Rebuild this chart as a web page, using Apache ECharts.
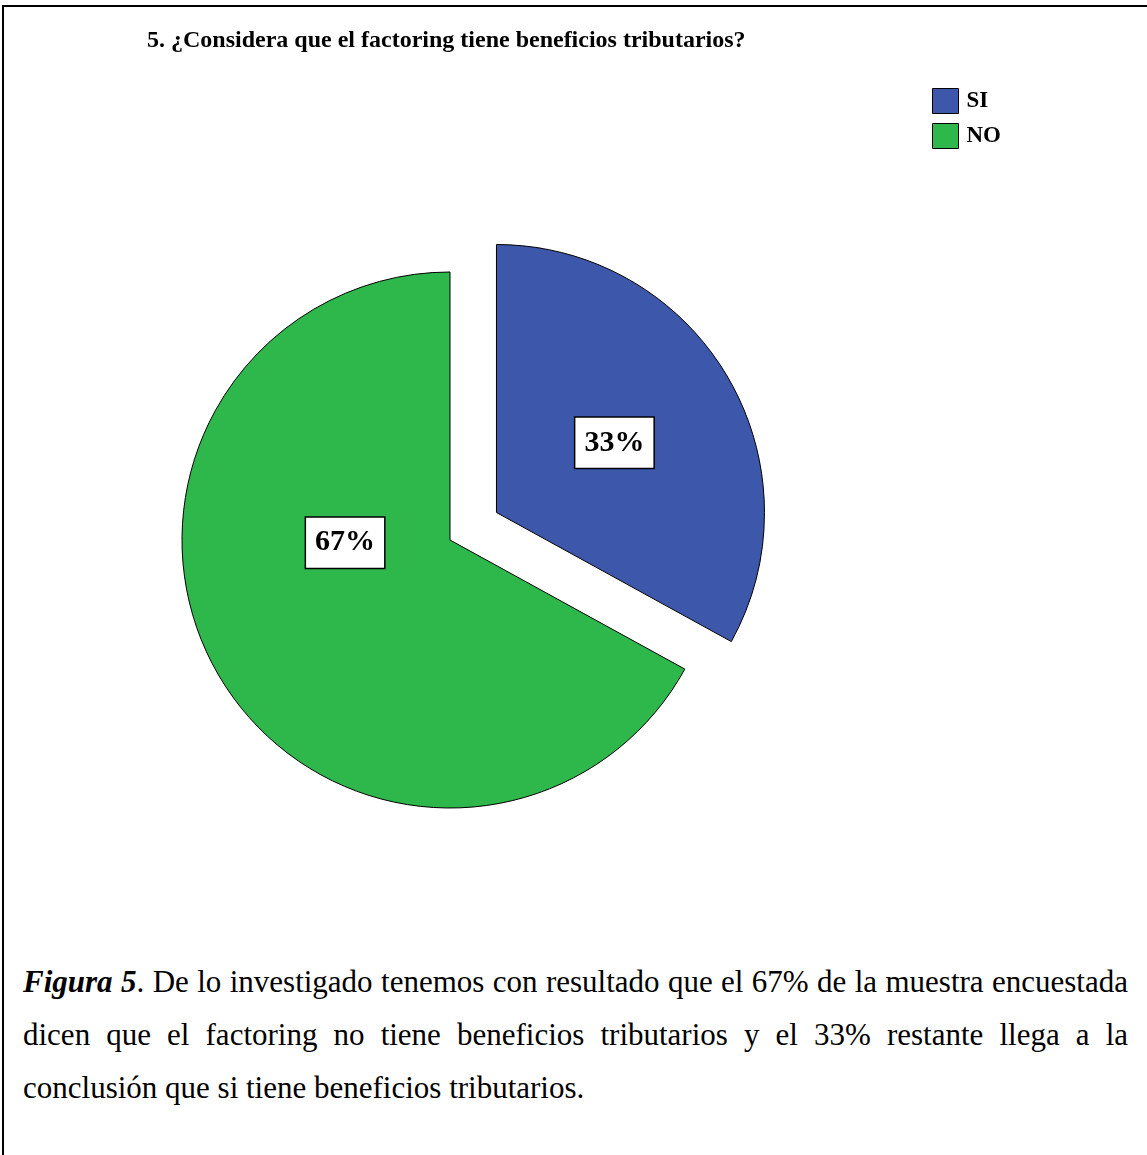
<!DOCTYPE html>
<html>
<head>
<meta charset="utf-8">
<script src="https://cdn.jsdelivr.net/npm/echarts@6/dist/echarts.min.js"></script>
<style>
  html, body { margin: 0; padding: 0; background: #fff; }
  .frame {
    position: absolute;
    left: 2px;
    top: 5px;
    width: 1145px;
    height: 1150px;
    box-sizing: border-box;
    border-top: 2px solid #000;
    border-left: 2px solid #000;
  }
  #chart { position: absolute; left: 0; top: 0; width: 1147px; height: 900px; }
  .caption {
    position: absolute;
    left: 23px;
    top: 955px;
    width: 1105px;
    font-family: "Liberation Serif", serif;
    font-size: 31px;
    line-height: 53px;
    color: #000;
  }
  .caption .full { text-align: justify; text-align-last: justify; white-space: nowrap; }
</style>
</head>
<body>
<div class="frame"></div>
<div id="chart"></div>
<div class="caption">
  <div class="full"><b><i>Figura 5</i></b>. De lo investigado tenemos con resultado que el 67% de la muestra encuestada</div>
  <div class="full">dicen que el factoring no tiene beneficios tributarios y el 33% restante llega a la</div>
  <div>conclusión que si tiene beneficios tributarios.</div>
</div>
<script>
const categories = ['SI', 'NO']
const percentages = [33, 67]
const colors = ['#3d57ab', '#2eb84c']

const chart = echarts.init(document.getElementById('chart'))

const option = {
  animation: false,
  title: {
    text: '5. ¿Considera que el factoring tiene beneficios tributarios?',
    left: 147,
    top: 29,
    padding: 0,
    textStyle: {
      fontFamily: 'Liberation Serif',
      fontWeight: 'bold',
      fontSize: 24,
      color: '#000'
    }
  },
  legend: {
    orient: 'vertical',
    left: 932,
    top: 88,
    padding: 0,
    itemWidth: 26,
    itemHeight: 25,
    itemGap: 9,
    icon: 'rect',
    data: categories,
    itemStyle: { borderColor: '#000', borderWidth: 1 },
    textStyle: {
      fontFamily: 'Liberation Serif',
      fontWeight: 'bold',
      fontSize: 23,
      color: '#000',
      padding: [2, 0, 0, 3]
    }
  },
  series: [
    {
      type: 'pie',
      center: [450, 540],
      radius: 268,
      startAngle: 90,
      clockwise: true,
      selectedMode: 'single',
      selectedOffset: 54,
      emphasis: { disabled: true },
      itemStyle: { borderColor: '#000', borderWidth: 1 },
      label: {
        position: 'inside',
        formatter: '{c}%',
        fontFamily: 'Liberation Serif',
        fontWeight: 'bold',
        fontSize: 30,
        color: '#000',
        backgroundColor: '#fff',
        borderColor: '#000',
        borderWidth: 1.5,
        padding: [11, 9, 9, 9]
      },
      labelLine: { show: false },
      data: categories.map((name, i) => ({
        name,
        value: percentages[i],
        selected: i === 0,
        itemStyle: { color: colors[i] },
        label: i === 1 ? { offset: [13, -67] } : { offset: [0, -2] }
      }))
    }
  ]
}

chart.setOption(option)
</script>
</body>
</html>
